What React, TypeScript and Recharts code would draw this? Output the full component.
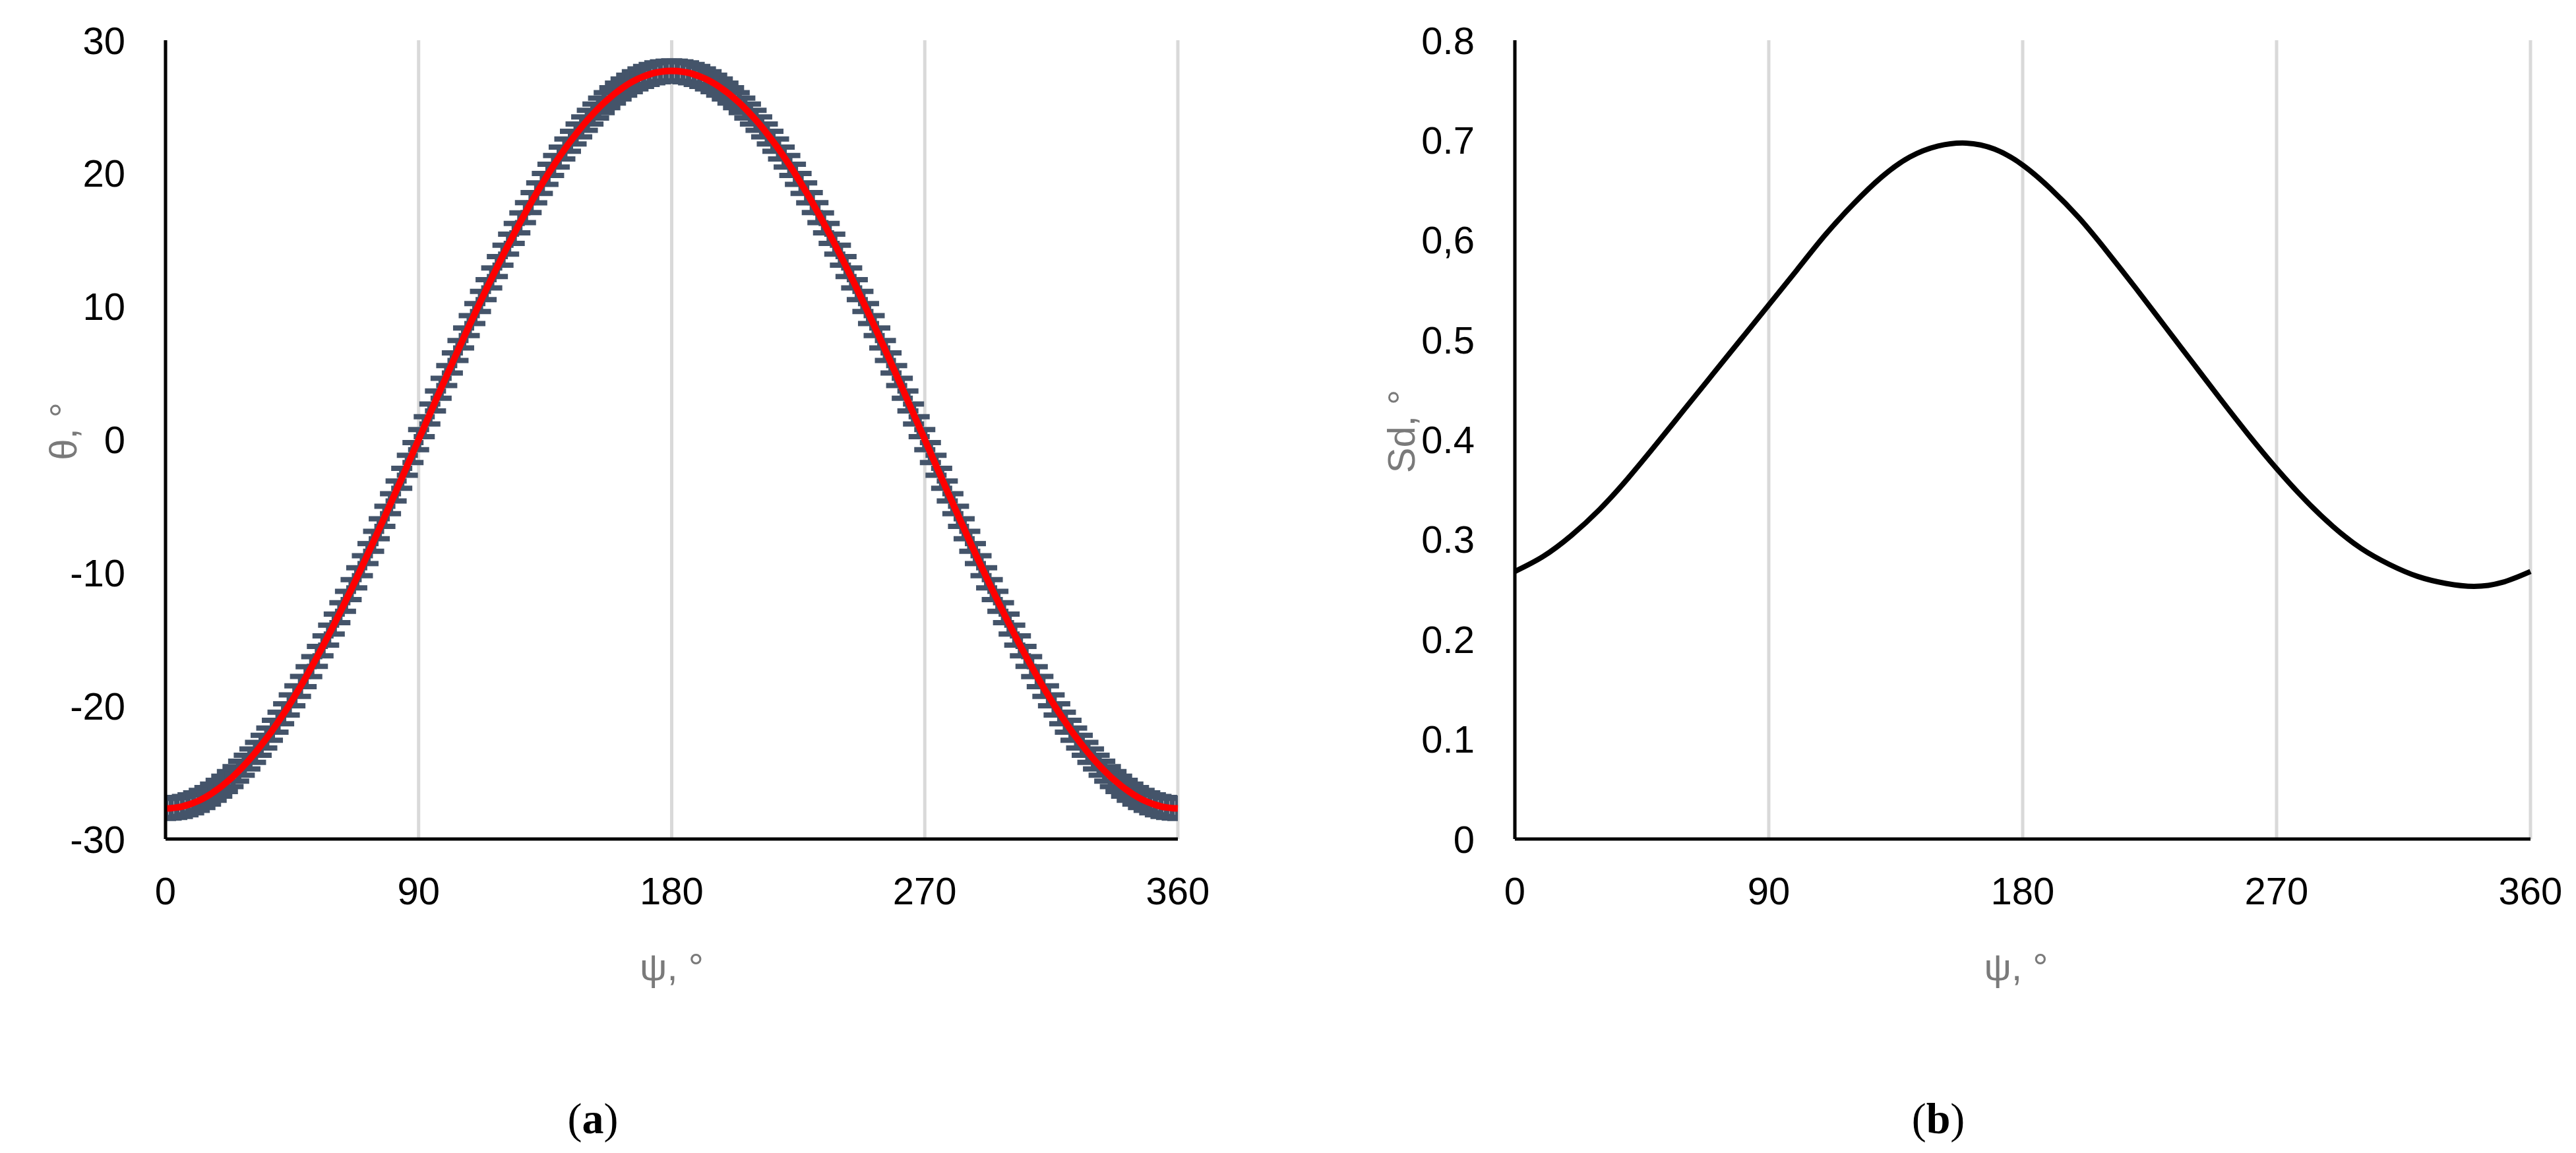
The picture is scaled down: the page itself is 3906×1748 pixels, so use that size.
import React from "react";
import { ComposedChart, Line, XAxis, YAxis, CartesianGrid, ErrorBar } from "recharts";

// ---------- data (a): theta vs psi ----------
const THETA_PSI = [
  0, 2, 4, 6, 8, 10, 12, 14, 16, 18, 20, 22, 24, 26, 28, 30, 32, 34, 36, 38, 40, 42, 44, 46, 48, 50,
  52, 54, 56, 58, 60, 62, 64, 66, 68, 70, 72, 74, 76, 78, 80, 82, 84, 86, 88, 90, 92, 94, 96, 98, 100,
  102, 104, 106, 108, 110, 112, 114, 116, 118, 120, 122, 124, 126, 128, 130, 132, 134, 136, 138, 140,
  142, 144, 146, 148, 150, 152, 154, 156, 158, 160, 162, 164, 166, 168, 170, 172, 174, 176, 178, 180,
  182, 184, 186, 188, 190, 192, 194, 196, 198, 200, 202, 204, 206, 208, 210, 212, 214, 216, 218, 220,
  222, 224, 226, 228, 230, 232, 234, 236, 238, 240, 242, 244, 246, 248, 250, 252, 254, 256, 258, 260,
  262, 264, 266, 268, 270, 272, 274, 276, 278, 280, 282, 284, 286, 288, 290, 292, 294, 296, 298, 300,
  302, 304, 306, 308, 310, 312, 314, 316, 318, 320, 322, 324, 326, 328, 330, 332, 334, 336, 338, 340,
  342, 344, 346, 348, 350, 352, 354, 356, 358, 360,
];
const THETA = [
  -27.7, -27.68, -27.63, -27.55, -27.43, -27.28, -27.1, -26.88, -26.63, -26.34, -26.03, -25.68, -25.31,
  -24.9, -24.46, -23.99, -23.49, -22.96, -22.41, -21.83, -21.22, -20.59, -19.93, -19.24, -18.54, -17.81,
  -17.05, -16.28, -15.49, -14.68, -13.85, -13, -12.14, -11.27, -10.38, -9.47, -8.56, -7.64, -6.7, -5.76,
  -4.81, -3.86, -2.9, -1.93, -0.97, 0,
  0.97, 1.93, 2.9, 3.86, 4.81, 5.76, 6.7, 7.64, 8.56, 9.47, 10.38, 11.27, 12.14, 13, 13.85, 14.68, 15.49,
  16.28, 17.05, 17.81, 18.54, 19.24, 19.93, 20.59, 21.22, 21.83, 22.41, 22.96, 23.49, 23.99, 24.46, 24.9,
  25.31, 25.68, 26.03, 26.34, 26.63, 26.88, 27.1, 27.28, 27.43, 27.55, 27.63, 27.68, 27.7,
  27.68, 27.63, 27.55, 27.43, 27.28, 27.1, 26.88, 26.63, 26.34, 26.03, 25.68, 25.31, 24.9, 24.46, 23.99,
  23.49, 22.96, 22.41, 21.83, 21.22, 20.59, 19.93, 19.24, 18.54, 17.81, 17.05, 16.28, 15.49, 14.68, 13.85,
  13, 12.14, 11.27, 10.38, 9.47, 8.56, 7.64, 6.7, 5.76, 4.81, 3.86, 2.9, 1.93, 0.97, 0,
  -0.97, -1.93, -2.9, -3.86, -4.81, -5.76, -6.7, -7.64, -8.56, -9.47, -10.38, -11.27, -12.14, -13, -13.85,
  -14.68, -15.49, -16.28, -17.05, -17.81, -18.54, -19.24, -19.93, -20.59, -21.22, -21.83, -22.41, -22.96,
  -23.49, -23.99, -24.46, -24.9, -25.31, -25.68, -26.03, -26.34, -26.63, -26.88, -27.1, -27.28, -27.43,
  -27.55, -27.63, -27.68, -27.7,
];
const THETA_ERR = 0.75;
const THETA_TICKS = [-30, -20, -10, 0, 10, 20, 30];

// ---------- data (b): Sd vs psi ----------
const SD_PSI = [
  0, 10, 20, 30, 40, 50, 60, 70, 80, 90, 100, 110, 120, 130, 140, 150, 160, 170, 180, 190, 200, 210, 220,
  230, 240, 250, 260, 270, 280, 290, 300, 310, 320, 330, 340, 350, 360,
];
const SD = [
  0.268, 0.283, 0.304, 0.33, 0.361, 0.395, 0.43, 0.465, 0.5, 0.535, 0.57, 0.605, 0.636, 0.663, 0.683,
  0.694, 0.697, 0.691, 0.675, 0.651, 0.622, 0.588, 0.552, 0.515, 0.478, 0.441, 0.405, 0.371, 0.34, 0.313,
  0.291, 0.275, 0.263, 0.256, 0.253, 0.257, 0.268,
];
const SD_TICKS = [0, 0.1, 0.2, 0.3, 0.4, 0.5, 0.6, 0.7, 0.8];
const SD_TICK_LABELS = ["0", "0.1", "0.2", "0.3", "0.4", "0.5", "0,6", "0.7", "0.8"];

const PSI_TICKS = [0, 90, 180, 270, 360];
const PSI_TICK_LABELS = ["0", "90", "180", "270", "360"];

const X_TITLE = "ψ, °";
const Y_TITLE_A = "θ, °";
const Y_TITLE_B = "Sd, °";
const CAPTION_A = "a";
const CAPTION_B = "b";

// ---------- styles ----------
const FONT = "'Liberation Sans', Arial, sans-serif";
const TICK_STYLE = { fontFamily: FONT, fontSize: 58, fill: "#000000" };
const TITLE_COLOR = "#7a7a7a";
const GRID_COLOR = "#d9d9d9";
const AXIS_COLOR = "#000000";

const thetaRows = THETA_PSI.map((p, i) => ({ psi: p, theta: THETA[i], err: THETA_ERR }));
const sdRows = SD_PSI.map((p, i) => ({ psi: p, sd: SD[i] }));

const CHART_H = 1560;
const PLOT_TOP = 61;
const PLOT_BOTTOM = 1272;
const X_AXIS_H = 200;
const Y_AXIS_W = 251;

function XTitle({ x, y }: { x: number; y: number }) {
  return (
    <text x={x} y={y} textAnchor="middle" dominantBaseline="central" fontFamily={FONT} fontSize={58} fill={TITLE_COLOR}>
      {X_TITLE}
    </text>
  );
}

function YTitle({ x, y, text }: { x: number; y: number; text: string }) {
  return (
    <text
      x={x}
      y={y}
      transform={`rotate(-90 ${x} ${y})`}
      textAnchor="middle"
      dominantBaseline="central"
      fontFamily={FONT}
      fontSize={58}
      fill={TITLE_COLOR}
    >
      {text}
    </text>
  );
}

function Caption({ letter, cx }: { letter: string; cx: number }) {
  return (
    <div
      style={{
        position: "absolute",
        left: cx - 150,
        top: 1660,
        width: 300,
        textAlign: "center",
        fontFamily: "'Liberation Serif', 'Times New Roman', serif",
        fontSize: 66,
        lineHeight: "72px",
        color: "#000",
      }}
    >
      (<b>{letter}</b>)
    </div>
  );
}

function PanelA() {
  const width = 1900;
  const plotLeft = Y_AXIS_W;
  const plotRight = 1786;
  return (
    <div style={{ position: "absolute", left: 0, top: 0 }}>
      <ComposedChart
        width={width}
        height={CHART_H}
        data={thetaRows}
        margin={{ top: PLOT_TOP, left: 0, right: width - plotRight, bottom: CHART_H - PLOT_BOTTOM - X_AXIS_H }}
      >
        <defs>
          <clipPath id="thetaPlotClip">
            <rect x={plotLeft} y={PLOT_TOP - 40} width={plotRight - plotLeft} height={PLOT_BOTTOM - PLOT_TOP + 80} />
          </clipPath>
        </defs>
        <CartesianGrid horizontal={false} stroke={GRID_COLOR} strokeWidth={5} />
        <Line dataKey="theta" stroke="none" dot={false} isAnimationActive={false} legendType="none">
          <ErrorBar
            dataKey="err"
            direction="y"
            width={16}
            strokeWidth={8}
            stroke="#44546A"
            clipPath="url(#thetaPlotClip)"
            style={{ clipPath: "url(#thetaPlotClip)" }}
            isAnimationActive={false}
          />
        </Line>
        <Line
          dataKey="theta"
          type="monotone"
          stroke="#FF0000"
          strokeWidth={10}
          dot={false}
          isAnimationActive={false}
        />
        <XAxis
          type="number"
          dataKey="psi"
          domain={[0, 360]}
          ticks={PSI_TICKS}
          tickFormatter={(v: number, i: number) => PSI_TICK_LABELS[i]}
          tick={TICK_STYLE}
          tickLine={false}
          tickSize={0}
          tickMargin={58}
          axisLine={{ stroke: AXIS_COLOR, strokeWidth: 5 }}
          height={X_AXIS_H}
          interval={0}
        />
        <YAxis
          type="number"
          domain={[-30, 30]}
          ticks={THETA_TICKS}
          tick={TICK_STYLE}
          tickLine={false}
          tickSize={0}
          tickMargin={61}
          axisLine={{ stroke: AXIS_COLOR, strokeWidth: 5 }}
          width={Y_AXIS_W}
          interval={0}
        />
        <XTitle x={(plotLeft + plotRight) / 2} y={1465} />
        <YTitle x={95} y={654} text={Y_TITLE_A} />
      </ComposedChart>
    </div>
  );
}

function PanelB() {
  const left = 2046;
  const width = 3906 - left;
  const plotLeft = Y_AXIS_W;
  const plotRight = 3837 - left;
  return (
    <div style={{ position: "absolute", left, top: 0 }}>
      <ComposedChart
        width={width}
        height={CHART_H}
        data={sdRows}
        margin={{ top: PLOT_TOP, left: 0, right: width - plotRight, bottom: CHART_H - PLOT_BOTTOM - X_AXIS_H }}
      >
        <CartesianGrid horizontal={false} stroke={GRID_COLOR} strokeWidth={5} />
        <XAxis
          type="number"
          dataKey="psi"
          domain={[0, 360]}
          ticks={PSI_TICKS}
          tickFormatter={(v: number, i: number) => PSI_TICK_LABELS[i]}
          tick={TICK_STYLE}
          tickLine={false}
          tickSize={0}
          tickMargin={58}
          axisLine={{ stroke: AXIS_COLOR, strokeWidth: 5 }}
          height={X_AXIS_H}
          interval={0}
        />
        <YAxis
          type="number"
          domain={[0, 0.8]}
          ticks={SD_TICKS}
          tickFormatter={(v: number, i: number) => SD_TICK_LABELS[i]}
          tick={TICK_STYLE}
          tickLine={false}
          tickSize={0}
          tickMargin={61}
          axisLine={{ stroke: AXIS_COLOR, strokeWidth: 5 }}
          width={Y_AXIS_W}
          interval={0}
        />
        <Line
          dataKey="sd"
          type="natural"
          stroke="#000000"
          strokeWidth={8}
          dot={false}
          isAnimationActive={false}
        />
        <XTitle x={(plotLeft + plotRight) / 2 - 10} y={1465} />
        <YTitle x={78} y={654} text={Y_TITLE_B} />
      </ComposedChart>
    </div>
  );
}

export default function App() {
  return (
    <div style={{ position: "absolute", left: 0, top: 0, width: 3906, height: 1748, background: "#ffffff" }}>
      <PanelA />
      <PanelB />
      <Caption letter={CAPTION_A} cx={899} />
      <Caption letter={CAPTION_B} cx={2939} />
    </div>
  );
}
